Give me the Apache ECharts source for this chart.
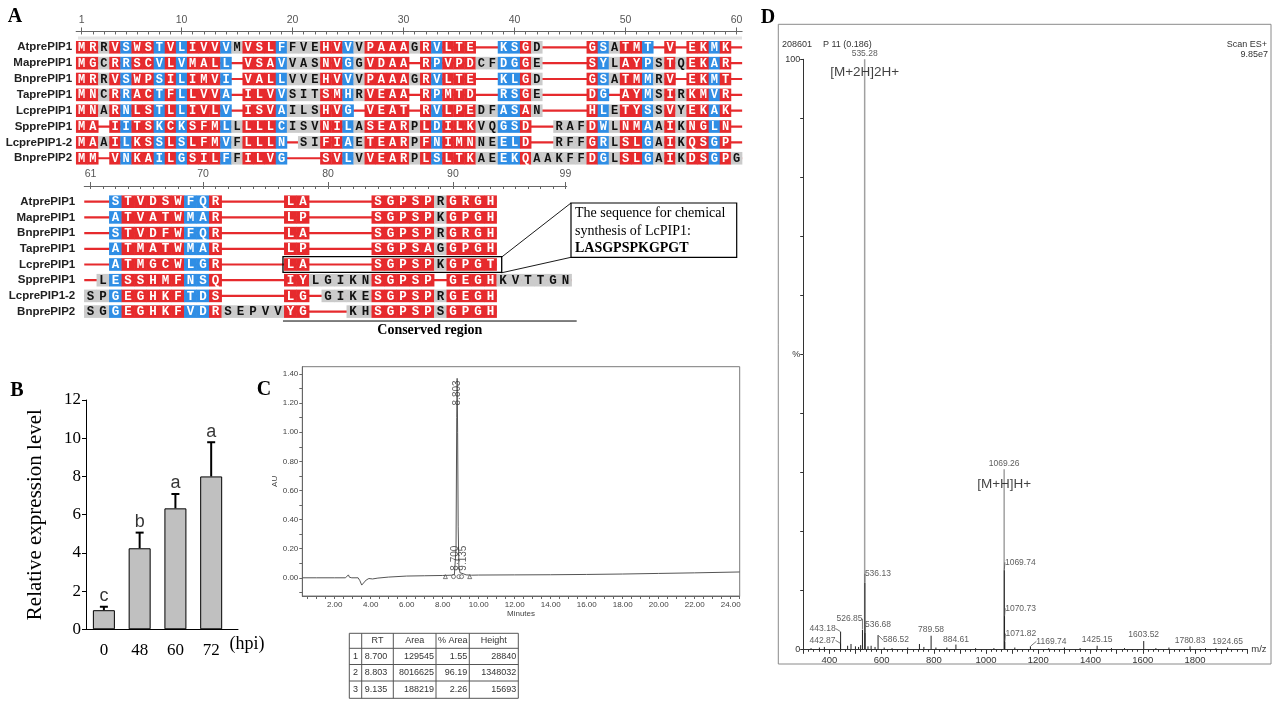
<!DOCTYPE html>
<html>
<head>
<meta charset="utf-8">
<title>LcPIP1 figure</title>
<script src="https://cdn.jsdelivr.net/npm/echarts@6/dist/echarts.min.js"></script>
<style>
html,body{margin:0;padding:0;background:#fff;}
#chart{width:1280px;height:720px;}
</style>
</head>
<body>
<div id="chart"></div>
<script>
// ================= Panel A : alignment =================
const seqNames = ['AtprePIP1','MaprePIP1','BnprePIP1','TaprePIP1','LcprePIP1','SpprePIP1','LcprePIP1-2','BnprePIP2'];
const block1Start = 1;
const block1Seqs = [
  'MRRVSWSTVL'+'IVVVMVSLFF'+'VEHVVVPAAA'+'GRVLTE--KS'+'GD----GSAT'+'MT-V-EKMK-',
  'MGCRRSCVLV'+'MALL-VSAVV'+'ASNVGGVDAA'+'-RPVPDCFDG'+'GE----SYLA'+'YPSTQEKAR-',
  'MRRVSWPSIL'+'IMVI-VALLV'+'VEHVVVPAAA'+'GRVLTE--KL'+'GD----GSAT'+'MMRV-EKMT-',
  'MNCRRACTFL'+'LVVA-ILVVS'+'ITSMHRVEAA'+'-RPMTD--RS'+'GE----DG-A'+'YMSIRKMVR-',
  'MNARNLSTLL'+'IVLV-ISVAI'+'LSHVG-VEAT'+'-RVLPEDFAS'+'AN----HLET'+'YSSVYEKAK-',
  'MA-IITSKCK'+'SFMLLLLLCI'+'SVNILASEAR'+'PLDILKVQGS'+'D--RAFDWLN'+'MAAIKNGLN-',
  'MAAILKSSLS'+'LFMVFLLLN-'+'SIFIAETEAR'+'PFNIMNNEEL'+'D--RFFGRLS'+'LGAIKQSGP-',
  'MM-VNKAILG'+'SILFFILVG-'+'--SVLVVEAR'+'PLSLTKAEEK'+'QAAKFFDGLS'+'LGAIKDSGPG'
];
// r = red (identical), b = blue (similar), g = grey (other)
const block1Cols = [
  'rrgrbrrbrb'+'rrrbgrrrbg'+'ggrrbgrrrr'+'grbrrr--bb'+'rg----rbgr'+'rb-r-rrbr-',
  'rrgrbrrbrb'+'rrrb-rrrbg'+'ggrrbgrrrr'+'-rbrrrggbb'+'rg----rbgr'+'rbgrgrrbr-',
  'rrgrbrrbrb'+'rrrb-rrrbg'+'ggrrbgrrrr'+'grbrrr--bb'+'rg----rbgr'+'rbgr-rrbr-',
  'rrgrbrrbrb'+'rrrb-rrrbg'+'ggrrbgrrrr'+'-rbrrr--bb'+'rg----rb-r'+'rbgrgrrbr-',
  'rrgrbrrbrb'+'rrrb-rrrbg'+'ggrrb-rrrr'+'-rbrrrggbb'+'rg----rbgr'+'rbgrgrrbr-',
  'rr-rbrrbrb'+'rrrbgrrrbg'+'ggrrbgrrrr'+'grbrrrggbb'+'r--gggrbgr'+'rbgrgrrbr-',
  'rrgrbrrbrb'+'rrrbgrrrb-'+'ggrrbgrrrr'+'grbrrrggbb'+'r--gggrbgr'+'rbgrgrrbr-',
  'rr-rbrrbrb'+'rrrbgrrrb-'+'--rrbgrrrr'+'grbrrrggbb'+'rgggggrbgr'+'rbgrgrrbrg'
];
const block2Start = 61;
const block2Seqs = [
  '--STVDSWFQ'+'R-----LA--'+'---SGPSPRG'+'RGH------',
  '--ATVATWMA'+'R-----LP--'+'---SGPSPKG'+'PGH------',
  '--STVDFWFQ'+'R-----LA--'+'---SGPSPRG'+'RGH------',
  '--ATMATWMA'+'R-----LP--'+'---SGPSAGG'+'PGH------',
  '--ATMGCWLG'+'R-----LA--'+'---SGPSPKG'+'PGT------',
  '-LESSHMFNS'+'Q-----IYLG'+'IKNSGPSP-G'+'EGHKVTTGN',
  'SPGEGHKFTD'+'S-----LG-G'+'IKESGPSPRG'+'EGH------',
  'SGGEGHKFVD'+'RSEPVVYG--'+'-KHSGPSPSG'+'PGH------'
];
const block2Cols = [
  '--brrrrrbb'+'r-----rr--'+'---rrrrrgr'+'rrr------',
  '--brrrrrbb'+'r-----rr--'+'---rrrrrgr'+'rrr------',
  '--brrrrrbb'+'r-----rr--'+'---rrrrrgr'+'rrr------',
  '--brrrrrbb'+'r-----rr--'+'---rrrrrgr'+'rrr------',
  '--brrrrrbb'+'r-----rr--'+'---rrrrrgr'+'rrr------',
  '-gbrrrrrbb'+'r-----rrgg'+'gggrrrrr-r'+'rrrgggggg',
  'ggbrrrrrbb'+'r-----rr-g'+'gggrrrrrgr'+'rrr------',
  'ggbrrrrrbb'+'rgggggrr--'+'-ggrrrrrgr'+'rrr------'
];
const ruler1Labels = [1, 10, 20, 30, 40, 50, 60];
const ruler2Labels = [61, 70, 80, 90, 99];
const synthRow = 4;               // LcprePIP1
const synthRange = [77, 93];      // LASGPSPKGPGT
const conservedRange = [77, 99];
const calloutLines = ['The sequence for chemical', 'synthesis of LcPIP1:', 'LASGPSPKGPGT'];

// ================= Panel B : expression =================
const hpiLabels = ['0', '48', '60', '72'];
const exprMean = [1.0, 4.24, 6.33, 8.0];
const exprErr = [0.18, 0.82, 0.75, 1.79];
const sigLetters = ['c', 'b', 'a', 'a'];

// ================= Panel C : HPLC =================
const chromTrace = [
  [0.2,0.0],[1.0,0.0],[2.0,0.0],[2.6,0.0],[2.7,0.004],[2.76,0.02],[2.82,0.004],[2.95,0.0],
  [3.3,0.0],[3.4,-0.02],[3.5,-0.05],[3.6,-0.04],[3.75,-0.015],[3.9,-0.005],[4.1,-0.008],
  [4.4,-0.002],[5.0,0.005],[6.0,0.012],[7.0,0.014],[8.0,0.016],[8.5,0.018],[8.65,0.022],
  [8.70,0.03],[8.74,0.2],[8.78,1.1],[8.803,1.37],[8.83,1.0],[8.86,0.35],[8.9,0.08],
  [8.96,0.035],[9.135,0.028],[9.3,0.02],[9.6,0.018],[10,0.019],[12,0.02],[14,0.021],
  [16,0.023],[18,0.026],[20,0.03],[22,0.034],[24.5,0.04]
];
const peakRT = [8.700, 8.803, 9.135];
const peakLabelAU = [0.135, 1.27, 0.135];
const markerRT = [8.15, 8.6, 8.9, 9.05, 9.5];
const markerSymbols = ['triangle', 'circle', 'circle', 'circle', 'triangle'];
const tableHeader = ['', 'RT', 'Area', '% Area', 'Height'];
const tableRows = [
  ['1', '8.700', '129545', '1.55', '28840'],
  ['2', '8.803', '8016625', '96.19', '1348032'],
  ['3', '9.135', '188219', '2.26', '15693']
];

// ================= Panel D : mass spectrum =================
const msPeaks = [
  [535.28,100],[1069.26,30.5],[1069.74,13.4],[536.13,11.3],[1070.73,5.6],[526.85,3.3],
  [443.18,3.0],[536.68,2.8],[586.52,2.4],[789.58,2.3],[1603.52,1.4],[1071.82,1.3],
  [442.87,1.0],[884.61,0.8],[1425.15,0.6],[1169.74,0.5],[1780.83,0.5],[1924.65,0.3],
  [330,0.2],[362,0.3],[381,0.4],[470,0.6],[483,0.9],[500,0.5],[512,0.4],[520,0.7],
  [548,0.5],[560,0.6],[575,0.4],[610,0.3],[640,0.2],[700,0.3],[745,0.9],[762,0.4],
  [808,0.3],[850,0.3],[960,0.2],[1030,0.2],[1110,0.3],[1240,0.2],[1300,0.3],[1360,0.2],
  [1480,0.2],[1530,0.2],[1650,0.2],[1700,0.3],[1840,0.2],[1880,0.2]
];
const msLabelMz = [535.28,1069.26,536.13,1069.74,1070.73,1071.82,526.85,536.68,443.18,442.87,586.52,789.58,884.61,1169.74,1425.15,1603.52,1780.83,1924.65];
const msLabelDx = [0, 0, 13, 16, 16, 16, -13, 13, -18, -18, 18, 0, 0, 21, 0, 0, 0, 0];
const msLabelDy = [-6, -6, -9, -8, -8, -8, -11, -8, -3, -3, 5, -6, -5, -5, -6, -6, -6, -6];
const msConnect = [false,false,true,true,true,true,true,true,true,true,true,false,false,true,false,false,false,false];
const ionLabels = ['[M+2H]2H+', '[M+H]H+'];
const ionMz = [535.28, 1069.26];
const ionLabelY = [97.8, 28.0];
const msHeader = ['208601', 'P 11 (0.186)', 'Scan ES+', '9.85e7'];

// ================= helpers =================
const RED = '#e62a2d', BLUE = '#2f8ee5', GREY = '#cbcbcb';
const FILL = { r: RED, b: BLUE, g: GREY };
const SERIF = '"Liberation Serif", "Times New Roman", serif';
const SANS = '"Liberation Sans", Arial, sans-serif';
function range(a, b, s) { const o = []; for (let v = a; v <= b + 1e-9; v += s) o.push(Math.round(v * 1000) / 1000); return o; }

function buildCells(seqs, cols, start) {
  const cells = [];
  seqs.forEach((s, row) => {
    for (let i = 0; i < s.length; i++) {
      if (s[i] === '-') continue;
      let code = cols[row][i];
      if (!FILL[code]) code = 'g';
      cells.push({ pos: start + i, row: row, ch: s[i], code: code });
    }
  });
  return cells;
}
function buildSegs(seqs, start, toEnd) {
  return seqs.map((s, row) => {
    let last = 0;
    for (let i = 0; i < s.length; i++) if (s[i] !== '-') last = i;
    return [start, toEnd ? start + s.length - 1 : start + last, row];
  });
}
const cells1 = buildCells(block1Seqs, block1Cols, block1Start);
const cells2 = buildCells(block2Seqs, block2Cols, block2Start);
const segs1 = buildSegs(block1Seqs, block1Start, true);
const segs2 = buildSegs(block2Seqs, block2Start, false);

function lineSeries(xi, yi, segs) {
  return {
    type: 'custom', xAxisIndex: xi, yAxisIndex: yi, silent: true, z: 1, clip: false,
    encode: { x: [0, 1], y: 2 }, data: segs,
    renderItem: function (params, api) {
      const a = api.coord([api.value(0) - 0.5, api.value(2)]);
      const b = api.coord([api.value(1) + 0.5, api.value(2)]);
      return { type: 'line', shape: { x1: a[0], y1: a[1], x2: b[0], y2: b[1] }, style: { stroke: RED, lineWidth: 2.2 } };
    }
  };
}
function cellSeries(xi, yi, cells, fontSize) {
  return {
    type: 'custom', xAxisIndex: xi, yAxisIndex: yi, silent: true, z: 2, clip: false,
    data: cells.map(c => [c.pos, c.row]),
    renderItem: function (params, api) {
      const c = cells[params.dataIndex];
      const p = api.coord([api.value(0), api.value(1)]);
      const w = api.size([1, 0])[0];
      const h = 12.6;
      return {
        type: 'group', children: [
          { type: 'rect', shape: { x: p[0] - w / 2 - 0.2, y: p[1] - h / 2, width: w + 0.4, height: h }, style: { fill: FILL[c.code] } },
          { type: 'text', x: p[0], y: p[1] + 0.5, style: { text: c.ch, fill: c.code === 'g' ? '#111' : '#fff', font: 'bold ' + fontSize + 'px "Liberation Mono", monospace', align: 'center', verticalAlign: 'middle', textAlign: 'center', textVerticalAlign: 'middle' } }
        ]
      };
    }
  };
}
function rulerAxes(gi, min, max, labels, first) {
  return [
    {
      gridIndex: gi, type: 'value', position: 'top', min: min, max: max,
      axisLine: { show: true, onZero: false, lineStyle: { color: '#666', width: 1 } },
      axisTick: { show: true, inside: true, length: 3, customValues: range(first, Math.floor(max), 1), lineStyle: { color: '#666' } },
      axisLabel: { show: true, customValues: labels, color: '#555', fontSize: 10.5, fontFamily: SANS, margin: 6 },
      splitLine: { show: false }
    },
    {
      gridIndex: gi, type: 'value', position: 'top', min: min, max: max,
      axisLine: { show: false, onZero: false },
      axisTick: { show: true, length: 4, customValues: labels, lineStyle: { color: '#666' } },
      axisLabel: { show: false }, splitLine: { show: false }
    }
  ];
}
function nameAxis(gi, margin) {
  return {
    gridIndex: gi, type: 'value', min: -1, max: 8, inverse: true,
    axisLine: { show: false, onZero: false }, axisTick: { show: false }, splitLine: { show: false },
    axisLabel: { customValues: [0, 1, 2, 3, 4, 5, 6, 7], formatter: v => seqNames[Math.round(v)], fontWeight: 'bold', fontSize: 11.5, fontFamily: SANS, color: '#222', margin: margin }
  };
}

// ---------- table graphic ----------
const tCols = [349.3, 361.7, 393.3, 436, 469.3, 518.3];
const tRows = [633.3, 648.3, 664.5, 681, 698.3];
const tableEls = [];
tableEls.push({ type: 'rect', shape: { x: tCols[0], y: tRows[0], width: tCols[5] - tCols[0], height: tRows[4] - tRows[0] }, style: { fill: 'none', stroke: '#555', lineWidth: 1 } });
for (let i = 1; i < 5; i++) tableEls.push({ type: 'line', shape: { x1: tCols[i], y1: tRows[0], x2: tCols[i], y2: tRows[4] }, style: { stroke: '#555', lineWidth: 1 } });
for (let j = 1; j < 4; j++) tableEls.push({ type: 'line', shape: { x1: tCols[0], y1: tRows[j], x2: tCols[5], y2: tRows[j] }, style: { stroke: '#555', lineWidth: 1 } });
function tText(txt, x, y, align) {
  return { type: 'text', x: x, y: y, style: { text: txt, font: '9px ' + SANS, fill: '#333', align: align, verticalAlign: 'middle', textAlign: align, textVerticalAlign: 'middle' } };
}
tableHeader.forEach((h, i) => { if (h) tableEls.push(tText(h, (tCols[i] + tCols[i + 1]) / 2, (tRows[0] + tRows[1]) / 2, 'center')); });
tableRows.forEach((r, j) => {
  const y = (tRows[j + 1] + tRows[j + 2]) / 2;
  r.forEach((v, i) => {
    if (i === 0) tableEls.push(tText(v, (tCols[0] + tCols[1]) / 2, y, 'center'));
    else if (i === 1) tableEls.push(tText(v, tCols[1] + 3, y, 'left'));
    else tableEls.push(tText(v, tCols[i + 1] - 2, y, 'right'));
  });
});

function gText(txt, x, y, font, align, fill) {
  return { type: 'text', x: x, y: y, z: 50, style: { text: txt, font: font, fill: fill || '#000', align: align || 'center', verticalAlign: 'middle', textAlign: align || 'center', textVerticalAlign: 'middle' } };
}

const graphics = [
  gText('A', 15, 17, 'bold 20px ' + SERIF),
  gText('B', 17, 391, 'bold 20px ' + SERIF),
  gText('C', 264, 390, 'bold 20px ' + SERIF),
  gText('D', 768, 18, 'bold 20px ' + SERIF),
  gText('(hpi)', 247, 644, '18px ' + SERIF),
  // light band under the first ruler
  { type: 'rect', z: 0, shape: { x: 78, y: 36.5, width: 664, height: 3 }, style: { fill: '#e4e4e4' } },
  // callout
  { type: 'rect', z: 50, shape: { x: 571, y: 203, width: 165.7, height: 54.3 }, style: { fill: '#fff', stroke: '#000', lineWidth: 1.2 } },
  { type: 'line', z: 50, shape: { x1: 501.5, y1: 257.2, x2: 571, y2: 203 }, style: { stroke: '#000', lineWidth: 0.9 } },
  { type: 'line', z: 50, shape: { x1: 501.5, y1: 272.8, x2: 571, y2: 257.3 }, style: { stroke: '#000', lineWidth: 0.9 } },
  gText(calloutLines[0], 575, 213.5, '14px ' + SERIF, 'left'),
  gText(calloutLines[1], 575, 231, '14px ' + SERIF, 'left'),
  gText(calloutLines[2], 575, 248.5, 'bold 14px ' + SERIF, 'left'),
  // table
  { type: 'group', z: 50, children: tableEls },
  // D frame + header
  { type: 'rect', z: 0, shape: { x: 778.3, y: 24.3, width: 492.7, height: 639.7 }, style: { fill: 'none', stroke: '#8a8a8a', lineWidth: 1 } },
  gText(msHeader[0], 782, 44.5, '9px ' + SANS, 'left', '#333'),
  gText(msHeader[1], 823, 44.5, '9px ' + SANS, 'left', '#333'),
  gText(msHeader[2], 1267, 44.5, '9px ' + SANS, 'right', '#333'),
  gText(msHeader[3], 1268, 54.5, '9px ' + SANS, 'right', '#333')
];

// ================= option =================
const option = {
  animation: false,
  backgroundColor: '#fff',
  textStyle: { fontFamily: SANS },
  grid: [
    { left: 76.15, top: 31.45, width: 666, height: 142.65, outerBoundsMode: 'none' },
    { left: 84.25, top: 186, width: 482.45, height: 141.3, outerBoundsMode: 'none' },
    { left: 86, top: 400, width: 152, height: 229.3, outerBoundsMode: 'none' },
    { left: 302.3, top: 366.7, width: 437.4, height: 229.3, show: true, borderColor: '#7a7a7a', borderWidth: 1, backgroundColor: 'transparent', outerBoundsMode: 'none' },
    { left: 803.2, top: 59.3, width: 444.1, height: 590, outerBoundsMode: 'none' }
  ],
  xAxis: [
    ...rulerAxes(0, 0.5, 60.5, ruler1Labels, 1),
    ...rulerAxes(1, 60.5, 99.1, ruler2Labels, 61),
    { // B
      gridIndex: 2, type: 'value', min: -0.5, max: 3.75, position: 'bottom',
      axisLine: { show: true, onZero: false, lineStyle: { color: '#000', width: 1 } },
      axisTick: { show: false }, splitLine: { show: false },
      axisLabel: { customValues: [0, 1, 2, 3], formatter: v => hpiLabels[Math.round(v)], fontFamily: SERIF, fontSize: 17, color: '#000', margin: 13 }
    },
    { // C
      gridIndex: 3, type: 'value', min: 0.2, max: 24.5, position: 'bottom',
      axisLine: { show: true, onZero: false, lineStyle: { color: '#666' } },
      axisTick: { show: true, length: 3, customValues: range(0.5, 24.5, 0.5), lineStyle: { color: '#666' } },
      axisLabel: { customValues: range(2, 24, 2), formatter: v => v.toFixed(2), fontSize: 8, color: '#444', margin: 5 },
      splitLine: { show: false },
      name: 'Minutes', nameLocation: 'middle', nameGap: 14, nameTextStyle: { fontSize: 8, color: '#444' }
    },
    { // D
      gridIndex: 4, type: 'value', min: 300, max: 2000, position: 'bottom',
      axisLine: { show: true, onZero: false, lineStyle: { color: '#333' } },
      axisTick: { show: true, length: 2.5, customValues: range(300, 2000, 20), lineStyle: { color: '#333' } },
      axisLabel: { customValues: range(400, 1800, 200), formatter: v => String(Math.round(v)), fontSize: 9.5, color: '#333', margin: 6 },
      splitLine: { show: false },
      name: 'm/z', nameLocation: 'end', nameGap: 4, nameTextStyle: { fontSize: 9.5, color: '#333' }
    },
    {
      gridIndex: 4, type: 'value', min: 300, max: 2000, position: 'bottom',
      axisLine: { show: false, onZero: false },
      axisTick: { show: true, length: 4.5, customValues: range(300, 2000, 100), lineStyle: { color: '#333' } },
      axisLabel: { show: false }, splitLine: { show: false }
    }
  ],
  yAxis: [
    nameAxis(0, 4),
    nameAxis(1, 9),
    { // B
      gridIndex: 2, type: 'value', min: 0, max: 12, interval: 2, position: 'left',
      axisLine: { show: true, onZero: false, lineStyle: { color: '#000', width: 1 } },
      axisTick: { show: true, length: 4, lineStyle: { color: '#000' } },
      splitLine: { show: false },
      axisLabel: { fontFamily: SERIF, fontSize: 17, color: '#000', margin: 5 },
      name: 'Relative expression level', nameLocation: 'middle', nameGap: 40,
      nameTextStyle: { fontFamily: SERIF, fontSize: 21, color: '#000' }
    },
    { // C
      gridIndex: 3, type: 'value', min: -0.125, max: 1.45, position: 'left',
      axisLine: { show: true, onZero: false, lineStyle: { color: '#666' } },
      axisTick: { show: true, length: 3, customValues: range(-0.1, 1.4, 0.1), lineStyle: { color: '#666' } },
      axisLabel: { customValues: range(0, 1.4, 0.2), formatter: v => v.toFixed(2), fontSize: 8, color: '#444', margin: 4 },
      splitLine: { show: false },
      name: 'AU', nameLocation: 'middle', nameGap: 24, nameTextStyle: { fontSize: 8, color: '#444' }
    },
    { // D
      gridIndex: 4, type: 'value', min: 0, max: 100, position: 'left',
      axisLine: { show: true, onZero: false, lineStyle: { color: '#333' } },
      axisTick: { show: true, length: 3, customValues: range(0, 100, 10), lineStyle: { color: '#333' } },
      axisLabel: { customValues: [0, 50, 100], formatter: v => (Math.round(v) === 50 ? '%' : String(Math.round(v))), fontSize: 9, color: '#333', margin: 3 },
      splitLine: { show: false }
    }
  ],
  graphic: graphics,
  series: [
    // ---- A block 1
    lineSeries(0, 0, segs1),
    cellSeries(0, 0, cells1, 12),
    // ---- A block 2
    lineSeries(2, 1, segs2),
    cellSeries(2, 1, cells2, 12.5),
    { // synthesis box + conserved-region bar
      type: 'custom', xAxisIndex: 2, yAxisIndex: 1, silent: true, z: 5, clip: false,
      data: [[synthRange[0], synthRange[1], synthRow, conservedRange[0], conservedRange[1]]],
      renderItem: function (params, api) {
        const a = api.coord([api.value(0) - 0.6, api.value(2) - 0.5]);
        const b = api.coord([api.value(1) + 0.9, api.value(2) + 0.5]);
        const c1 = api.coord([api.value(3) - 0.6, 7.6]);
        const c2 = api.coord([api.value(4) + 0.9, 7.6]);
        return {
          type: 'group', children: [
            { type: 'rect', shape: { x: a[0], y: a[1], width: b[0] - a[0], height: b[1] - a[1] }, style: { fill: 'none', stroke: '#000', lineWidth: 1.3 } },
            { type: 'line', shape: { x1: c1[0], y1: c1[1], x2: c2[0], y2: c2[1] }, style: { stroke: '#000', lineWidth: 1 } },
            { type: 'text', x: (c1[0] + c2[0]) / 2, y: c1[1] + 9.5, style: { text: 'Conserved region', font: 'bold 14px ' + SERIF, fill: '#000', align: 'center', verticalAlign: 'middle', textAlign: 'center', textVerticalAlign: 'middle' } }
          ]
        };
      }
    },
    // ---- B
    {
      type: 'bar', xAxisIndex: 4, yAxisIndex: 2, barWidth: 22, z: 2,
      data: exprMean.map((v, i) => [i, v]),
      itemStyle: { color: '#c0c0c0', borderColor: '#000', borderWidth: 1 }
    },
    {
      type: 'custom', xAxisIndex: 4, yAxisIndex: 2, z: 1, silent: true,
      data: exprMean.map((v, i) => [i, v, v + exprErr[i]]),
      encode: { x: 0, y: [1, 2] },
      renderItem: function (params, api) {
        const a = api.coord([api.value(0), api.value(1)]);
        const b = api.coord([api.value(0), api.value(2)]);
        return {
          type: 'group', children: [
            { type: 'line', shape: { x1: a[0], y1: a[1], x2: b[0], y2: b[1] }, style: { stroke: '#000', lineWidth: 2 } },
            { type: 'line', shape: { x1: b[0] - 4, y1: b[1], x2: b[0] + 4, y2: b[1] }, style: { stroke: '#000', lineWidth: 2 } }
          ]
        };
      }
    },
    {
      type: 'scatter', xAxisIndex: 4, yAxisIndex: 2, symbolSize: 1, silent: true,
      itemStyle: { color: 'rgba(0,0,0,0)' },
      data: exprMean.map((v, i) => [i, v + exprErr[i]]),
      label: { show: true, position: 'top', distance: 1, formatter: p => sigLetters[p.dataIndex], fontFamily: SANS, fontSize: 18, color: '#000' }
    },
    // ---- C
    {
      type: 'line', xAxisIndex: 5, yAxisIndex: 3, showSymbol: false, symbol: 'none', silent: true,
      data: chromTrace, lineStyle: { color: '#555', width: 1 }, z: 2
    },
    {
      type: 'scatter', xAxisIndex: 5, yAxisIndex: 3, symbolSize: 1, silent: true, z: 3,
      itemStyle: { color: 'rgba(0,0,0,0)' },
      data: peakRT.map((t, i) => [t, peakLabelAU[i]]),
      label: { show: true, position: 'inside', rotate: 90, formatter: p => p.value[0].toFixed(3), fontSize: 10, color: '#333' }
    },
    {
      type: 'scatter', xAxisIndex: 5, yAxisIndex: 3, silent: true, z: 3, symbolSize: 4,
      data: markerRT.map((t, i) => ({ value: [t, 0.008], symbol: markerSymbols[i] })),
      itemStyle: { color: '#fff', borderColor: '#333', borderWidth: 0.8 }
    },
    // ---- D
    {
      type: 'custom', xAxisIndex: 6, yAxisIndex: 4, silent: true, z: 2, clip: false,
      data: msPeaks.slice().sort((p, q) => q[1] - p[1]),
      renderItem: function (params, api) {
        const a = api.coord([api.value(0), 0]);
        const b = api.coord([api.value(0), api.value(1)]);
        const big = api.value(1) > 20;
        return { type: 'line', shape: { x1: a[0], y1: a[1], x2: b[0], y2: b[1] }, style: { stroke: big ? '#a0a0a0' : '#222', lineWidth: big ? 1.5 : 1 } };
      }
    },
    {
      type: 'scatter', xAxisIndex: 6, yAxisIndex: 4, symbolSize: 1, silent: true, z: 3,
      itemStyle: { color: 'rgba(0,0,0,0)' },
      data: msLabelMz.map((mz, i) => {
        const pk = msPeaks.find(p => p[0] === mz);
        return { value: [mz, pk ? pk[1] : 0], labelLine: { show: msConnect[i] } };
      }),
      label: { show: true, position: 'inside', formatter: p => p.value[0].toFixed(2), fontSize: 8.5, color: '#333' },
      labelLayout: p => ({ dx: msLabelDx[p.dataIndex], dy: msLabelDy[p.dataIndex] }),
      labelLine: { show: true, length2: 0, lineStyle: { color: '#555', width: 0.8 } }
    },
    {
      type: 'scatter', xAxisIndex: 6, yAxisIndex: 4, symbolSize: 1, silent: true, z: 3,
      itemStyle: { color: 'rgba(0,0,0,0)' },
      data: ionMz.map((mz, i) => [mz, ionLabelY[i]]),
      label: { show: true, position: 'inside', formatter: p => ionLabels[p.dataIndex], fontSize: 13.5, color: '#111' }
    }
  ]
};

const chart = echarts.init(document.getElementById('chart'), null, { renderer: 'canvas' });
chart.setOption(option);
</script>
</body>
</html>
